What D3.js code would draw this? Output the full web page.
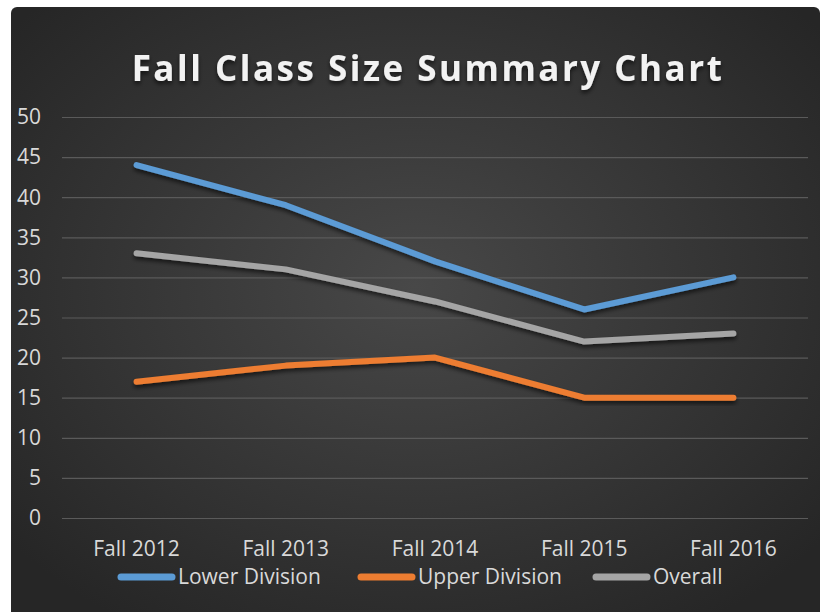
<!DOCTYPE html>
<html>
<head>
<meta charset="utf-8">
<script src="https://cdn.jsdelivr.net/npm/d3@7"></script>
<style>
  html, body { margin: 0; padding: 0; background: #fff; }
  svg { display: block; }
</style>
</head>
<body>
<div id="chart"></div>
<script>
// data
const CATEGORIES = ["Fall 2012", "Fall 2013", "Fall 2014", "Fall 2015", "Fall 2016"];
const LOWER = [44, 39, 32, 26, 30];
const UPPER = [17, 19, 20, 15, 15];
const OVERALL = [33, 31, 27, 22, 23];
const Y_TICKS = [0, 5, 10, 15, 20, 25, 30, 35, 40, 45, 50];

const SERIES = [
  { name: "Lower Division", values: LOWER, color: "#5b9bd5" },
  { name: "Upper Division", values: UPPER, color: "#ed7d31" },
  { name: "Overall", values: OVERALL, color: "#a5a5a5" }
];

const FONT = "'Open Sans', 'DejaVu Sans', sans-serif";
const W = 828, H = 612;

const svg = d3.select("#chart").append("svg").attr("width", W).attr("height", H);
const defs = svg.append("defs");

const grad = defs.append("radialGradient").attr("id", "bg")
  .attr("cx", "50%").attr("cy", "45%").attr("r", "65%");
grad.append("stop").attr("offset", "0%").attr("stop-color", "#484848");
grad.append("stop").attr("offset", "100%").attr("stop-color", "#262626");

const shadow = defs.append("filter").attr("id", "shadow")
  .attr("x", "-10%").attr("y", "-10%").attr("width", "120%").attr("height", "130%");
shadow.append("feDropShadow").attr("dx", 0).attr("dy", 3).attr("stdDeviation", 2)
  .attr("flood-color", "#000").attr("flood-opacity", 0.6);

svg.append("rect").attr("x", 11).attr("y", 7).attr("width", 809).attr("height", 620)
  .attr("rx", 6).attr("fill", "url(#bg)");

// plot area
const m = { l: 62, r: 20, t: 117, b: 94 };
const x = d3.scaleBand().domain(CATEGORIES).range([m.l, W - m.r]);
const y = d3.scaleLinear().domain([0, 50]).range([H - m.b, m.t]);

// gridlines
svg.append("g").call(d3.axisLeft(y).tickValues(Y_TICKS).tickSize(-(W - m.r - m.l)).tickFormat(""))
  .attr("transform", `translate(${m.l},0)`)
  .call(g => { g.select(".domain").remove();
    g.selectAll("line").attr("stroke", "#5a5a5a").attr("stroke-width", 1.2); });

// y labels
svg.append("g").selectAll("text").data(Y_TICKS).enter().append("text")
  .attr("x", 41).attr("y", d => y(d)).attr("dy", "0.35em").attr("text-anchor", "end")
  .style("font-family", FONT).style("font-size", "21px").style("fill", "#d9d9d9")
  .text(d => d);

// x labels
svg.append("g").selectAll("text").data(CATEGORIES).enter().append("text")
  .attr("x", d => x(d) + x.bandwidth() / 2).attr("y", 556).attr("text-anchor", "middle")
  .style("font-family", FONT).style("font-size", "21px").style("fill", "#d9d9d9")
  .text(d => d);

// lines
const line = d3.line().x((d, i) => x(CATEGORIES[i]) + x.bandwidth() / 2).y(d => y(d));
SERIES.forEach(s => {
  svg.append("path").datum(s.values).attr("d", line)
    .attr("fill", "none").attr("stroke", s.color).attr("stroke-width", 6)
    .attr("stroke-linecap", "round").attr("stroke-linejoin", "round")
    .attr("filter", "url(#shadow)");
});

// title
svg.append("text").attr("x", 428).attr("y", 81).attr("text-anchor", "middle")
  .style("font-family", FONT).style("font-size", "35px").style("font-weight", "700")
  .style("letter-spacing", "2.5px").style("fill", "#f2f2f2")
  .attr("filter", "url(#shadow)")
  .text("Fall Class Size Summary Chart");

// legend
const legendX = [121, 361, 596];
const leg = svg.append("g");
SERIES.forEach((s, i) => {
  leg.append("line").attr("x1", legendX[i]).attr("x2", legendX[i] + 51)
    .attr("y1", 577).attr("y2", 577)
    .attr("stroke", s.color).attr("stroke-width", 7).attr("stroke-linecap", "round");
  leg.append("text").attr("x", legendX[i] + 57).attr("y", 584)
    .style("font-family", FONT).style("font-size", "21px").style("fill", "#d9d9d9")
    .text(s.name);
});
</script>
</body>
</html>
